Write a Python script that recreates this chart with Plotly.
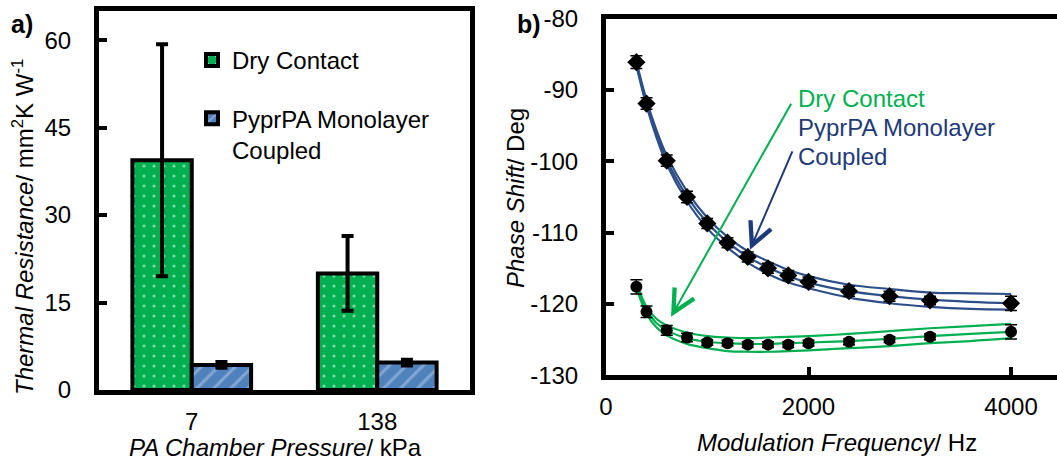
import plotly.graph_objects as go

# ---- panel a: thermal resistance bars ----
pressures = ["7", "138"]
dry_res = [39.4, 20.0]
dry_res_err = [19.9, 6.4]
pyr_res = [4.3, 4.7]
pyr_res_err = [0.5, 0.5]
res_ticks = [0, 15, 30, 45, 60]

# ---- panel b: phase shift vs modulation frequency ----
freq = [300, 400, 600, 800, 1000, 1200, 1400, 1600, 1800, 2000, 2400, 2800, 3200, 4000]
pyr_phase = [-86.1, -91.9, -99.9, -105.0, -108.7, -111.4, -113.4, -115.0, -116.0, -116.9,
             -118.2, -118.9, -119.5, -119.9]
pyr_phase_err = [0.9, 0.8, 0.8, 0.8, 0.7, 0.7, 0.7, 0.7, 0.7, 0.7, 0.7, 0.7, 0.6, 1.0]
dry_phase = [-117.6, -121.1, -123.7, -124.7, -125.4, -125.5, -125.7, -125.7, -125.7, -125.5,
             -125.3, -125.0, -124.6, -123.9]
dry_phase_err = [1.0, 0.8, 0.7, 0.6, 0.4, 0.4, 0.4, 0.4, 0.4, 0.4, 0.4, 0.4, 0.4, 1.0]
freq_ticks = [0, 2000, 4000]
phase_ticks = [-130, -120, -110, -100, -90, -80]
phase_tick_labels = ["-130", "-120", "-110", "-100", "-90", "-80"]

# model fits (best fit with upper / lower bounds)
fit_freq = [300, 400, 500, 600, 800, 1000, 1200, 1400, 1600, 1800, 2000, 2400, 2800, 3200, 3600, 4000]
pyr_fit = [-86.3, -91.8, -96.2, -99.8, -104.9, -108.6, -111.3, -113.4, -114.9, -116.1, -117.0,
           -118.2, -118.9, -119.4, -119.7, -119.9]
pyr_fit_hi = [-86.0, -91.4, -95.7, -99.2, -104.2, -107.9, -110.6, -112.6, -114.0, -115.2, -116.1,
              -117.3, -117.9, -118.4, -118.5, -118.6]
pyr_fit_lo = [-86.6, -92.2, -96.7, -100.4, -105.6, -109.4, -112.1, -114.2, -115.8, -117.0, -117.8,
              -119.1, -119.9, -120.4, -120.7, -120.8]
dry_fit = [-117.3, -120.9, -122.7, -123.7, -124.8, -125.3, -125.5, -125.6, -125.6, -125.5, -125.4,
           -125.2, -124.9, -124.5, -124.2, -123.9]
dry_fit_hi = [-117.0, -120.4, -122.1, -123.0, -124.0, -124.5, -124.7, -124.8, -124.7, -124.6, -124.5,
              -124.2, -123.8, -123.4, -123.1, -122.8]
dry_fit_lo = [-117.6, -121.4, -123.3, -124.4, -125.6, -126.2, -126.6, -126.7, -126.7, -126.6, -126.5,
              -126.2, -125.9, -125.5, -125.2, -124.8]

W, H = 1057, 461
FONT = "Liberation Sans, Arial, sans-serif"
GREEN = "#00B050"
BLUE_BAR = "#4F81BD"
NAVY = "#1F3A78"
BLUE_LINE = "#2C4F8A"


def px(x):
    return x / W


def py(y):
    return 1 - y / H


fig = go.Figure()

fig.add_trace(go.Bar(
    x=pressures, y=dry_res, name="Dry Contact", legendgroup="dry",
    marker=dict(color=GREEN, line=dict(color="black", width=4),
                pattern=dict(shape=".", fgcolor="white", bgcolor=GREEN, size=10, solidity=0.08)),
    error_y=dict(type="data", array=dry_res_err, color="black", thickness=4, width=6),
    xaxis="x", yaxis="y",
))
fig.add_trace(go.Bar(
    x=pressures, y=pyr_res, name="PyprPA Monolayer<br>Coupled", legendgroup="pyr",
    marker=dict(color=BLUE_BAR, line=dict(color="black", width=4),
                pattern=dict(shape="/", fgcolor="#B9CDE8", bgcolor=BLUE_BAR, size=12, solidity=0.25)),
    error_y=dict(type="data", array=pyr_res_err, color="black", thickness=4, width=6),
    xaxis="x", yaxis="y",
))

for ys, col in [(pyr_fit_hi, BLUE_LINE), (pyr_fit, BLUE_LINE), (pyr_fit_lo, BLUE_LINE),
                (dry_fit_hi, GREEN), (dry_fit, GREEN), (dry_fit_lo, GREEN)]:
    fig.add_trace(go.Scatter(
        x=fit_freq, y=ys, mode="lines", line=dict(color=col, width=2.2, shape="spline"),
        showlegend=False, hoverinfo="skip", xaxis="x2", yaxis="y2",
    ))

fig.add_trace(go.Scatter(
    x=freq, y=pyr_phase, mode="markers", showlegend=False,
    marker=dict(symbol="diamond", size=14, color="black"),
    error_y=dict(type="data", array=pyr_phase_err, color="black", thickness=1.5, width=6),
    xaxis="x2", yaxis="y2",
))
fig.add_trace(go.Scatter(
    x=freq, y=dry_phase, mode="markers", showlegend=False,
    marker=dict(symbol="circle", size=12, color="black"),
    error_y=dict(type="data", array=dry_phase_err, color="black", thickness=1.5, width=6),
    xaxis="x2", yaxis="y2",
))

tickfont = dict(family=FONT, size=24, color="black")
axis_common = dict(showline=True, linecolor="black", linewidth=5, showgrid=False,
                   zeroline=False, tickfont=tickfont, automargin=False)

fig.update_layout(
    width=W, height=H, margin=dict(l=0, r=0, t=0, b=0, autoexpand=False),
    paper_bgcolor="white", plot_bgcolor="white",
    font=dict(family=FONT, size=24, color="black"),
    barmode="group", bargap=0.36, bargroupgap=0,
    showlegend=True,
    legend=dict(x=px(192), y=py(38), xanchor="left", yanchor="top",
                font=dict(family=FONT, size=24, color="black"),
                bgcolor="rgba(0,0,0,0)", traceorder="grouped", tracegroupgap=24,
                valign="top", itemwidth=30),
    xaxis=dict(domain=[px(99), px(470)], type="category", range=[-0.5, 1.5],
               mirror=True, ticks="", ticklabelstandoff=6, anchor="y", **axis_common),
    yaxis=dict(domain=[py(390), py(11)], range=[0, 65], tickvals=res_ticks,
               mirror=True, ticks="inside", ticklen=8, tickwidth=4, tickcolor="black",
               ticklabelstandoff=18, anchor="x", **axis_common),
    xaxis2=dict(domain=[px(606), 1], range=[0, 4454], tickvals=freq_ticks,
                mirror=True, ticks="inside", ticklen=8, tickwidth=4, tickcolor="black",
                ticklabelstandoff=6, anchor="y2", **axis_common),
    yaxis2=dict(domain=[py(375.3), py(18.7)], range=[-130, -80],
                tickvals=phase_ticks, ticktext=phase_tick_labels,
                mirror=False, ticks="inside", ticklen=8, tickwidth=4, tickcolor="black",
                ticklabelstandoff=18, anchor="x2", **axis_common),
)

ann = []
# panel letters
ann.append(dict(text="<b>a)</b>", x=px(9), y=py(24), xref="paper", yref="paper",
                xanchor="left", yanchor="middle", showarrow=False, font=dict(size=25)))
ann.append(dict(text="<b>b)</b>", x=px(515), y=py(24), xref="paper", yref="paper",
                xanchor="left", yanchor="middle", showarrow=False, font=dict(size=25)))
# axis titles
ann.append(dict(text="<i>Thermal Resistance</i>/ mm<sup>2</sup>K W<sup>-1</sup>",
                x=px(23), y=py(227), xref="paper", yref="paper", textangle=-90,
                xanchor="center", yanchor="middle", showarrow=False))
ann.append(dict(text="<i>PA Chamber Pressure</i>/ kPa", x=px(275), y=py(447),
                xref="paper", yref="paper", xanchor="center", yanchor="middle", showarrow=False))
ann.append(dict(text="<i>Phase Shift</i>/ Deg", x=px(516), y=py(198), xref="paper", yref="paper",
                textangle=-90, xanchor="center", yanchor="middle", showarrow=False))
ann.append(dict(text="<i>Modulation Frequency</i>/ Hz", x=px(837), y=py(442),
                xref="paper", yref="paper", xanchor="center", yanchor="middle", showarrow=False))
# series labels with pointer arrows in panel b
ann.append(dict(text="Dry Contact", x=px(796), y=py(98), xref="paper", yref="paper",
                xanchor="left", yanchor="middle", showarrow=False, font=dict(color=GREEN)))
ann.append(dict(text="PyprPA Monolayer", x=px(796), y=py(128), xref="paper", yref="paper",
                xanchor="left", yanchor="middle", showarrow=False, font=dict(color=NAVY)))
ann.append(dict(text="Coupled", x=px(796), y=py(156), xref="paper", yref="paper",
                xanchor="left", yanchor="middle", showarrow=False, font=dict(color=NAVY)))
ann.append(dict(text="", x=642, y=-121.8, xref="x2", yref="y2", ax=1837, ay=-91.7,
                axref="x2", ayref="y2", showarrow=True, arrowhead=5, arrowsize=2.2,
                arrowwidth=2, arrowcolor=GREEN, standoff=0, startstandoff=0))
ann.append(dict(text="", x=1422, y=-112.4, xref="x2", yref="y2", ax=1847, ay=-98.4,
                axref="x2", ayref="y2", showarrow=True, arrowhead=5, arrowsize=2.2,
                arrowwidth=2, arrowcolor=NAVY, standoff=0, startstandoff=0))
fig.update_layout(annotations=ann)

fig.write_html("out.html")
